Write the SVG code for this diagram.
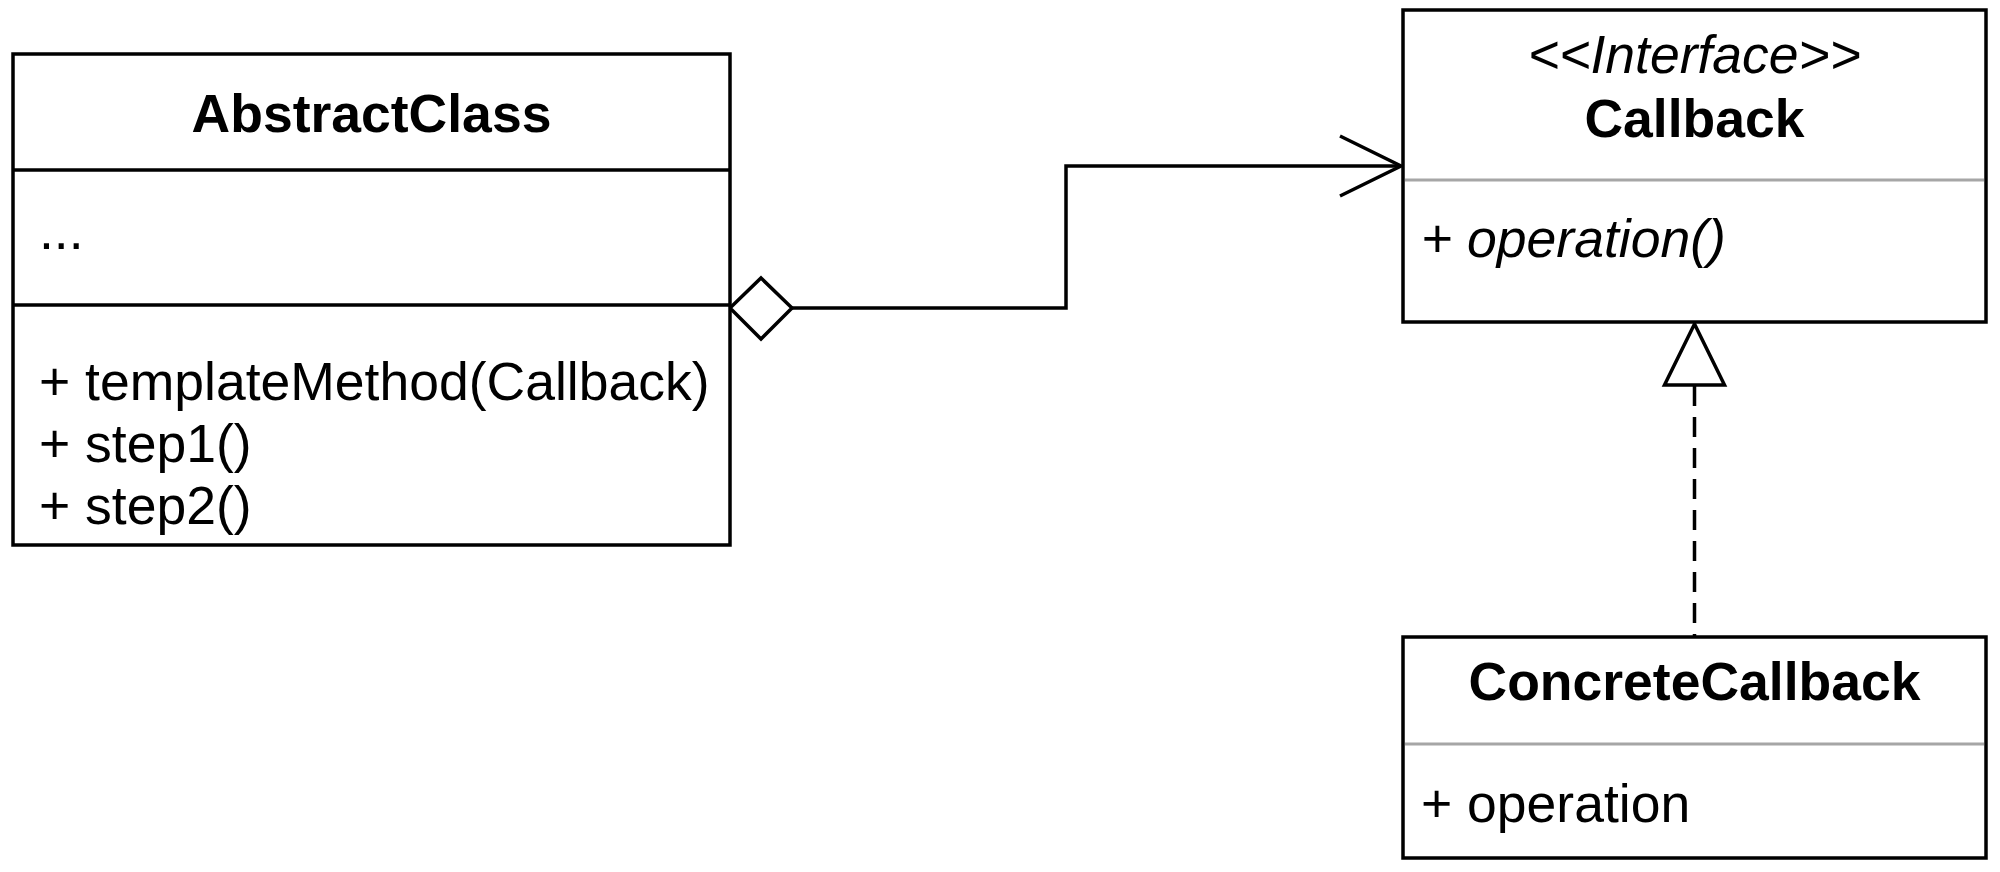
<svg xmlns="http://www.w3.org/2000/svg" width="2000" height="872" viewBox="0 0 2000 872">
<style>
.box{fill:#fff;stroke:#000;stroke-width:3.5}
.div{stroke:#000;stroke-width:3.5}
.gdiv{stroke:#a6a6a6;stroke-width:3}
.t{font-family:"Liberation Sans",Arial,sans-serif;font-size:53.5px;fill:#000}
.b{font-weight:bold}
.i{font-style:italic}
.c{text-anchor:middle}
.ln{fill:none;stroke:#000;stroke-width:3.5}
</style>
<rect width="2000" height="872" fill="#fff"/>
<g id="connectors">
<path class="ln" d="M792,308 H1066 V166 H1401"/>
<polygon class="ln" points="730,308 761,278 792,308 761,339" style="fill:#fff"/>
<path class="ln" d="M1340,136 L1401,166 L1340,196"/>
<path class="ln" d="M1694.5,386 V636" stroke-dasharray="20 11"/>
<polygon class="ln" points="1694.5,324 1664.5,385 1724.5,385" style="fill:#fff"/>
</g>
<g id="AbstractClass">
<rect class="box" x="13" y="54" width="717" height="491"/>
<line class="div" x1="13" y1="170" x2="730" y2="170"/>
<line class="div" x1="13" y1="305" x2="730" y2="305"/>
<text class="t b c" x="371.5" y="132">AbstractClass</text>
<text class="t" x="39" y="249">...</text>
<text class="t" x="39" y="400">+ templateMethod(Callback)</text>
<text class="t" x="39" y="462">+ step1()</text>
<text class="t" x="39" y="524">+ step2()</text>
</g>
<g id="Callback">
<rect class="box" x="1403" y="10" width="583" height="312"/>
<line class="gdiv" x1="1405" y1="180" x2="1984" y2="180"/>
<text class="t i c" x="1694.5" y="73">&lt;&lt;Interface&gt;&gt;</text>
<text class="t b c" x="1694.5" y="137">Callback</text>
<text class="t i" x="1421" y="257">+ operation()</text>
</g>
<g id="ConcreteCallback">
<rect class="box" x="1403" y="637" width="583" height="221"/>
<line class="gdiv" x1="1405" y1="744" x2="1984" y2="744"/>
<text class="t b c" x="1694.5" y="700">ConcreteCallback</text>
<text class="t" x="1421" y="822">+ operation</text>
</g>
</svg>
